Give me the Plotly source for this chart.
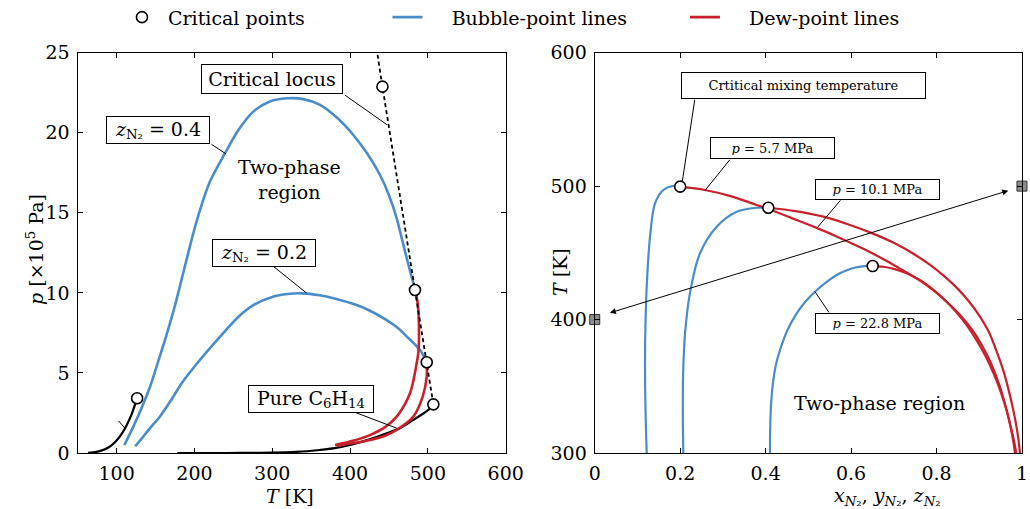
import plotly.graph_objects as go

# ---------------- data (left: p-T diagram) ----------------
n2_T = [63.2, 70, 77, 85, 90, 95, 100, 105, 110, 115, 120, 126.2]
n2_p = [0.0125, 0.038, 0.10, 0.23, 0.36, 0.54, 0.78, 1.08, 1.47, 1.94, 2.51, 3.40]

hex_T = [178, 220, 260, 300, 330, 361, 380, 404, 425, 447, 465, 481, 495, 503, 507]
hex_p = [0.0, 0.001, 0.005, 0.022, 0.07, 0.19, 0.30, 0.55, 0.85, 1.23, 1.58, 2.06, 2.50, 2.80, 3.04]

bub04_T = [110, 121.5, 132, 143, 153, 164, 175, 189, 203, 220, 239.3, 257, 275.7, 297, 318.6,
           340, 361.4, 383, 404.2, 422, 438.5, 450, 459.9, 467, 472.8, 478, 481.3, 483.4]
bub04_p = [0.5, 1.65, 2.8, 4.14, 5.65, 7.35, 9.2, 11.9, 14.5, 16.95, 18.72, 20.2, 21.32, 21.95, 22.15,
           22.1, 21.74, 20.95, 19.86, 18.7, 17.36, 16.1, 14.66, 13.3, 12.16, 11.2, 10.6, 10.18]

bub02_T = [124, 133, 143, 156, 170, 185, 207, 230, 258.6, 275.7, 300, 320, 338, 361, 380, 408.5,
           425, 447, 463, 473, 482, 490, 498.5]
bub02_p = [0.42, 0.95, 1.55, 2.3, 3.3, 4.45, 5.81, 7.1, 8.6, 9.24, 9.75, 9.93, 9.97, 9.85, 9.65, 9.24,
           8.9, 8.3, 7.75, 7.27, 6.85, 6.43, 5.67]

dew04_T = [483.4, 486.9, 488.6, 487.8, 485.6, 477.0, 459.9, 445, 425.6, 405, 380.6]
dew04_p = [10.18, 9.35, 7.27, 6.3, 5.6, 3.73, 2.27, 1.62, 1.12, 0.78, 0.5]

dew02_T = [498.5, 498.5, 493.3, 481.3, 459.9, 445, 425.6, 405, 382.8]
dew02_p = [5.67, 4.77, 3.52, 2.27, 1.44, 1.08, 0.81, 0.62, 0.45]

locus_T = [507, 503, 498.5, 491, 483.4, 441.6, 432]
locus_p = [3.04, 4.3, 5.67, 7.9, 10.18, 22.88, 25.9]

crit_T = [126.4, 507, 498.5, 483.4, 441.6]
crit_p = [3.42, 3.04, 5.67, 10.18, 22.88]

# ---------------- data (right: T-x diagram) ----------------
b57_x = [0.1217, 0.119, 0.1177, 0.119, 0.1225, 0.1294, 0.1411, 0.1606, 0.184, 0.200]
b57_T = [300, 330, 370, 400, 430, 462, 487, 497.1, 500.1, 499.6]

b101_x = [0.2074, 0.2062, 0.207, 0.2115, 0.223, 0.2464, 0.2855, 0.3323, 0.379, 0.4063]
b101_T = [300, 330, 360, 390, 420, 449.7, 469.6, 480.8, 483.8, 483.8]

b228_x = [0.4103, 0.4105, 0.4125, 0.417, 0.424, 0.4337, 0.451, 0.4727, 0.4935, 0.5156, 0.54,
          0.5663, 0.59, 0.613, 0.632, 0.6506]
b228_T = [300, 315, 335, 352, 366, 377.2, 392, 404.7, 413.5, 420.9, 427.5, 433.4, 437, 439.2,
          440.1, 440.1]

d57_x = [0.200, 0.258, 0.32, 0.379, 0.406, 0.46, 0.5195, 0.574, 0.63, 0.68, 0.7145, 0.755, 0.7924,
         0.825, 0.855, 0.882, 0.906, 0.928, 0.946, 0.961, 0.973, 0.9805, 0.9836]
d57_T = [499.6, 497.1, 492.3, 485.9, 482.9, 476.2, 468.7, 461.2, 452.8, 444.5, 438.2, 430.5, 422,
         413, 403.5, 393, 381, 367, 352, 336, 320, 307, 300]

d101_x = [0.4063, 0.47, 0.535, 0.5975, 0.65, 0.70, 0.745, 0.785, 0.82, 0.85, 0.876, 0.90, 0.922,
          0.942, 0.958, 0.972, 0.983, 0.991, 0.9953]
d101_T = [483.8, 481.3, 477.1, 470.9, 464.6, 457.5, 449.5, 441, 432, 423, 413.5, 403, 391,
          375, 360, 343, 327, 312, 300]

d228_x = [0.6506, 0.6754, 0.70, 0.730, 0.76, 0.79, 0.818, 0.845, 0.87, 0.893, 0.914, 0.933, 0.95,
          0.964, 0.975, 0.982, 0.9865]
d228_T = [440.1, 439.6, 438, 434.7, 429.8, 423, 415, 406, 396, 385, 373, 360, 346,
          332, 318, 308, 300]

critR_x = [0.200, 0.4063, 0.6506]
critR_T = [499.6, 483.8, 440.1]

sq_x = [0.0, 1.0]
sq_T = [400, 500]

# ---------------- styling ----------------
BLUE = "rgb(74,140,200)"
RED = "rgb(200,32,45)"
FONT = "DejaVu Serif"
PAD = "\u00a0\u00a0\u00a0\u00a0"

fig = go.Figure()

def line(x, y, color, width, xa, ya, name=None, show=False, dash=None, legend="legend"):
    ln = dict(color=color, width=width)
    if dash is None:
        ln.update(shape="spline", smoothing=0.9)
    else:
        ln.update(dash=dash)
    fig.add_trace(go.Scatter(
        x=x, y=y, mode="lines", xaxis=xa, yaxis=ya, line=ln,
        name=name, showlegend=show, legend=legend, hoverinfo="skip"))

# left plot
line(n2_T, n2_p, "black", 2.2, "x", "y")
line(hex_T, hex_p, "black", 2.2, "x", "y")
line(bub04_T, bub04_p, BLUE, 2.6, "x", "y", PAD + "Bubble-point lines", True, legend="legend2")
line(bub02_T, bub02_p, BLUE, 2.6, "x", "y")
line(dew04_T, dew04_p, RED, 2.6, "x", "y", PAD + "Dew-point lines", True, legend="legend3")
line(dew02_T, dew02_p, RED, 2.6, "x", "y")
line(locus_T, locus_p, "black", 1.8, "x", "y", dash="4px,3px")

# right plot
line(b57_x, b57_T, BLUE, 2.2, "x2", "y2")
line(b101_x, b101_T, BLUE, 2.2, "x2", "y2")
line(b228_x, b228_T, BLUE, 2.2, "x2", "y2")
line(d57_x, d57_T, RED, 2.2, "x2", "y2")
line(d101_x, d101_T, RED, 2.2, "x2", "y2")
line(d228_x, d228_T, RED, 2.2, "x2", "y2")

circ = dict(symbol="circle", size=11, color="white", line=dict(color="black", width=1.6))
fig.add_trace(go.Scatter(x=crit_T, y=crit_p, mode="markers", marker=circ, xaxis="x", yaxis="y",
                         name="\u00a0Critical points", showlegend=True, legend="legend",
                         cliponaxis=False, hoverinfo="skip"))
fig.add_trace(go.Scatter(x=critR_x, y=critR_T, mode="markers", marker=circ, xaxis="x2", yaxis="y2",
                         showlegend=False, cliponaxis=False, hoverinfo="skip"))
fig.add_trace(go.Scatter(x=sq_x, y=sq_T, mode="markers", xaxis="x2", yaxis="y2",
                         marker=dict(symbol="square", size=10, color="rgb(140,140,145)",
                                     line=dict(color="rgb(50,50,55)", width=1)),
                         showlegend=False, cliponaxis=False, hoverinfo="skip"))

# ---------------- axes ----------------
tickfont = dict(family=FONT, size=19, color="black")
common = dict(showline=True, linecolor="black", linewidth=1.3, mirror="ticks", ticks="inside",
              ticklen=5, tickwidth=1, tickcolor="black", showgrid=False, zeroline=False,
              tickfont=tickfont, ticklabelstandoff=3, automargin=False)
ydom = [0.110, 0.8965]
fig.update_layout(
    xaxis=dict(domain=[0.0754, 0.491], range=[50, 600], tickvals=[100, 200, 300, 400, 500, 600],
               anchor="y", **common),
    yaxis=dict(domain=ydom, range=[0, 25], tickvals=[0, 5, 10, 15, 20, 25], anchor="x", **common),
    xaxis2=dict(domain=[0.5774, 0.9922], range=[0, 1], tickvals=[0, 0.2, 0.4, 0.6, 0.8, 1],
                ticktext=["0", "0.2", "0.4", "0.6", "0.8", "1"], anchor="y2", **common),
    yaxis2=dict(domain=ydom, range=[300, 600], tickvals=[300, 400, 500, 600], anchor="x2", **common),
)

# ---------------- annotations ----------------
ann = []

def box(text, x, y, xref, yref, size=19, border=True, width=None, height=None, pad=3):
    d = dict(text=text, x=x, y=y, xref=xref, yref=yref, showarrow=False,
             font=dict(family=FONT, size=size, color="black"), xanchor="center", yanchor="middle")
    if border:
        d.update(bordercolor="black", borderwidth=1, bgcolor="white", borderpad=pad)
    if width:
        d["width"] = width
    if height:
        d["height"] = height
    ann.append(d)

def leader(x0, y0, x1, y1, xref, yref):
    ann.append(dict(text="", x=x1, y=y1, ax=x0, ay=y0, xref=xref, yref=yref, axref=xref, ayref=yref,
                    showarrow=True, arrowhead=0, arrowwidth=1, arrowcolor="black",
                    standoff=0, startstandoff=0))

# left plot labels
leader(391.3, 22.42, 447.5, 20.5, "x", "y")
box("Critical locus", 299.7, 23.36, "x", "y", width=134, height=22)
leader(220, 19.34, 240.6, 18.68, "x", "y")
box("<i>z</i><sub>N₂</sub> = 0.4", 153.2, 20.19, "x", "y", width=96, height=20)
box("Two-phase<br>region", 322.8, 17.11, "x", "y", border=False)
leader(299.3, 11.74, 344.3, 9.98, "x", "y")
box("<i>z</i><sub>N₂</sub> = 0.2", 290, 12.52, "x", "y", width=96, height=20)
leader(100.9, 2.1, 110.8, 1.54, "x", "y")
box("Pure N<sub>2</sub>", 43.3, 3.0, "x", "y", width=87, height=22)
leader(404.2, 2.58, 459.9, 1.55, "x", "y")
box("Pure C<sub>6</sub>H<sub>14</sub>", 349.2, 3.38, "x", "y", width=118, height=20)

# right plot labels
leader(0.2347, 565.8, 0.205, 503.5, "x2", "y2")
box("Crtitical mixing temperature", 0.4882, 575.4, "x2", "y2", size=13, width=237, height=19)
leader(0.319, 520.9, 0.2578, 496.6, "x2", "y2")
box("<i>p</i> = 5.7 MPa", 0.4166, 528.4, "x2", "y2", size=13, width=117, height=14)
leader(0.578, 490.4, 0.5195, 468.4, "x2", "y2")
box("<i>p</i> = 10.1 MPa", 0.6623, 497.5, "x2", "y2", size=13, width=117, height=13)
leader(0.5507, 404.2, 0.5156, 420.9, "x2", "y2")
box("<i>p</i> = 22.8 MPa", 0.6623, 396.9, "x2", "y2", size=13, width=117, height=13)
box("Two-phase region", 0.666, 337.2, "x2", "y2", border=False)

# double-headed arrow between the two squares
ann.append(dict(text="", x=0.968, y=496.6, ax=0.032, ay=404.7, xref="x2", yref="y2",
                axref="x2", ayref="y2", showarrow=True, arrowhead=2, startarrowhead=2,
                arrowside="end+start", arrowsize=1.2, startarrowsize=1.2, arrowwidth=1,
                arrowcolor="black", standoff=0, startstandoff=0))

# axis titles
tfont = dict(family=FONT, size=19, color="black")
ann.append(dict(text="<i>p</i> [×10<sup>5</sup> Pa]", x=0.034, y=0.509, xref="paper", yref="paper",
                showarrow=False, textangle=-90, font=tfont, xanchor="center", yanchor="middle"))
ann.append(dict(text="<i>T</i> [K]", x=0.2816, y=0.026, xref="paper", yref="paper",
                showarrow=False, font=tfont, xanchor="center", yanchor="middle"))
ann.append(dict(text="<i>T</i> [K]", x=0.5437, y=0.4656, xref="paper", yref="paper",
                showarrow=False, textangle=-90, font=tfont, xanchor="center", yanchor="middle"))
ann.append(dict(text="<i>x</i><sub><i>N</i>₂</sub>, <i>y</i><sub><i>N</i>₂</sub>, <i>z</i><sub><i>N</i>₂</sub>",
                x=0.8612, y=0.0236, xref="paper", yref="paper",
                showarrow=False, font=tfont, xanchor="center", yanchor="middle"))

legfont = dict(family=FONT, size=19, color="black")
def leg(x):
    return dict(orientation="h", x=x, xanchor="left", y=0.966, yanchor="middle",
                font=legfont, bgcolor="rgba(0,0,0,0)", itemwidth=30)

fig.update_layout(
    annotations=ann,
    width=1030, height=509,
    margin=dict(l=0, r=0, t=0, b=0, autoexpand=False),
    paper_bgcolor="white", plot_bgcolor="white",
    font=dict(family=FONT, size=19, color="black"),
    showlegend=True,
    legend=leg(0.1184),
    legend2=leg(0.3762),
    legend3=leg(0.665),
)

fig.write_html("out.html", config={"displayModeBar": False},
               post_script="document.body.style.margin='0px';document.body.style.overflow='hidden';")
